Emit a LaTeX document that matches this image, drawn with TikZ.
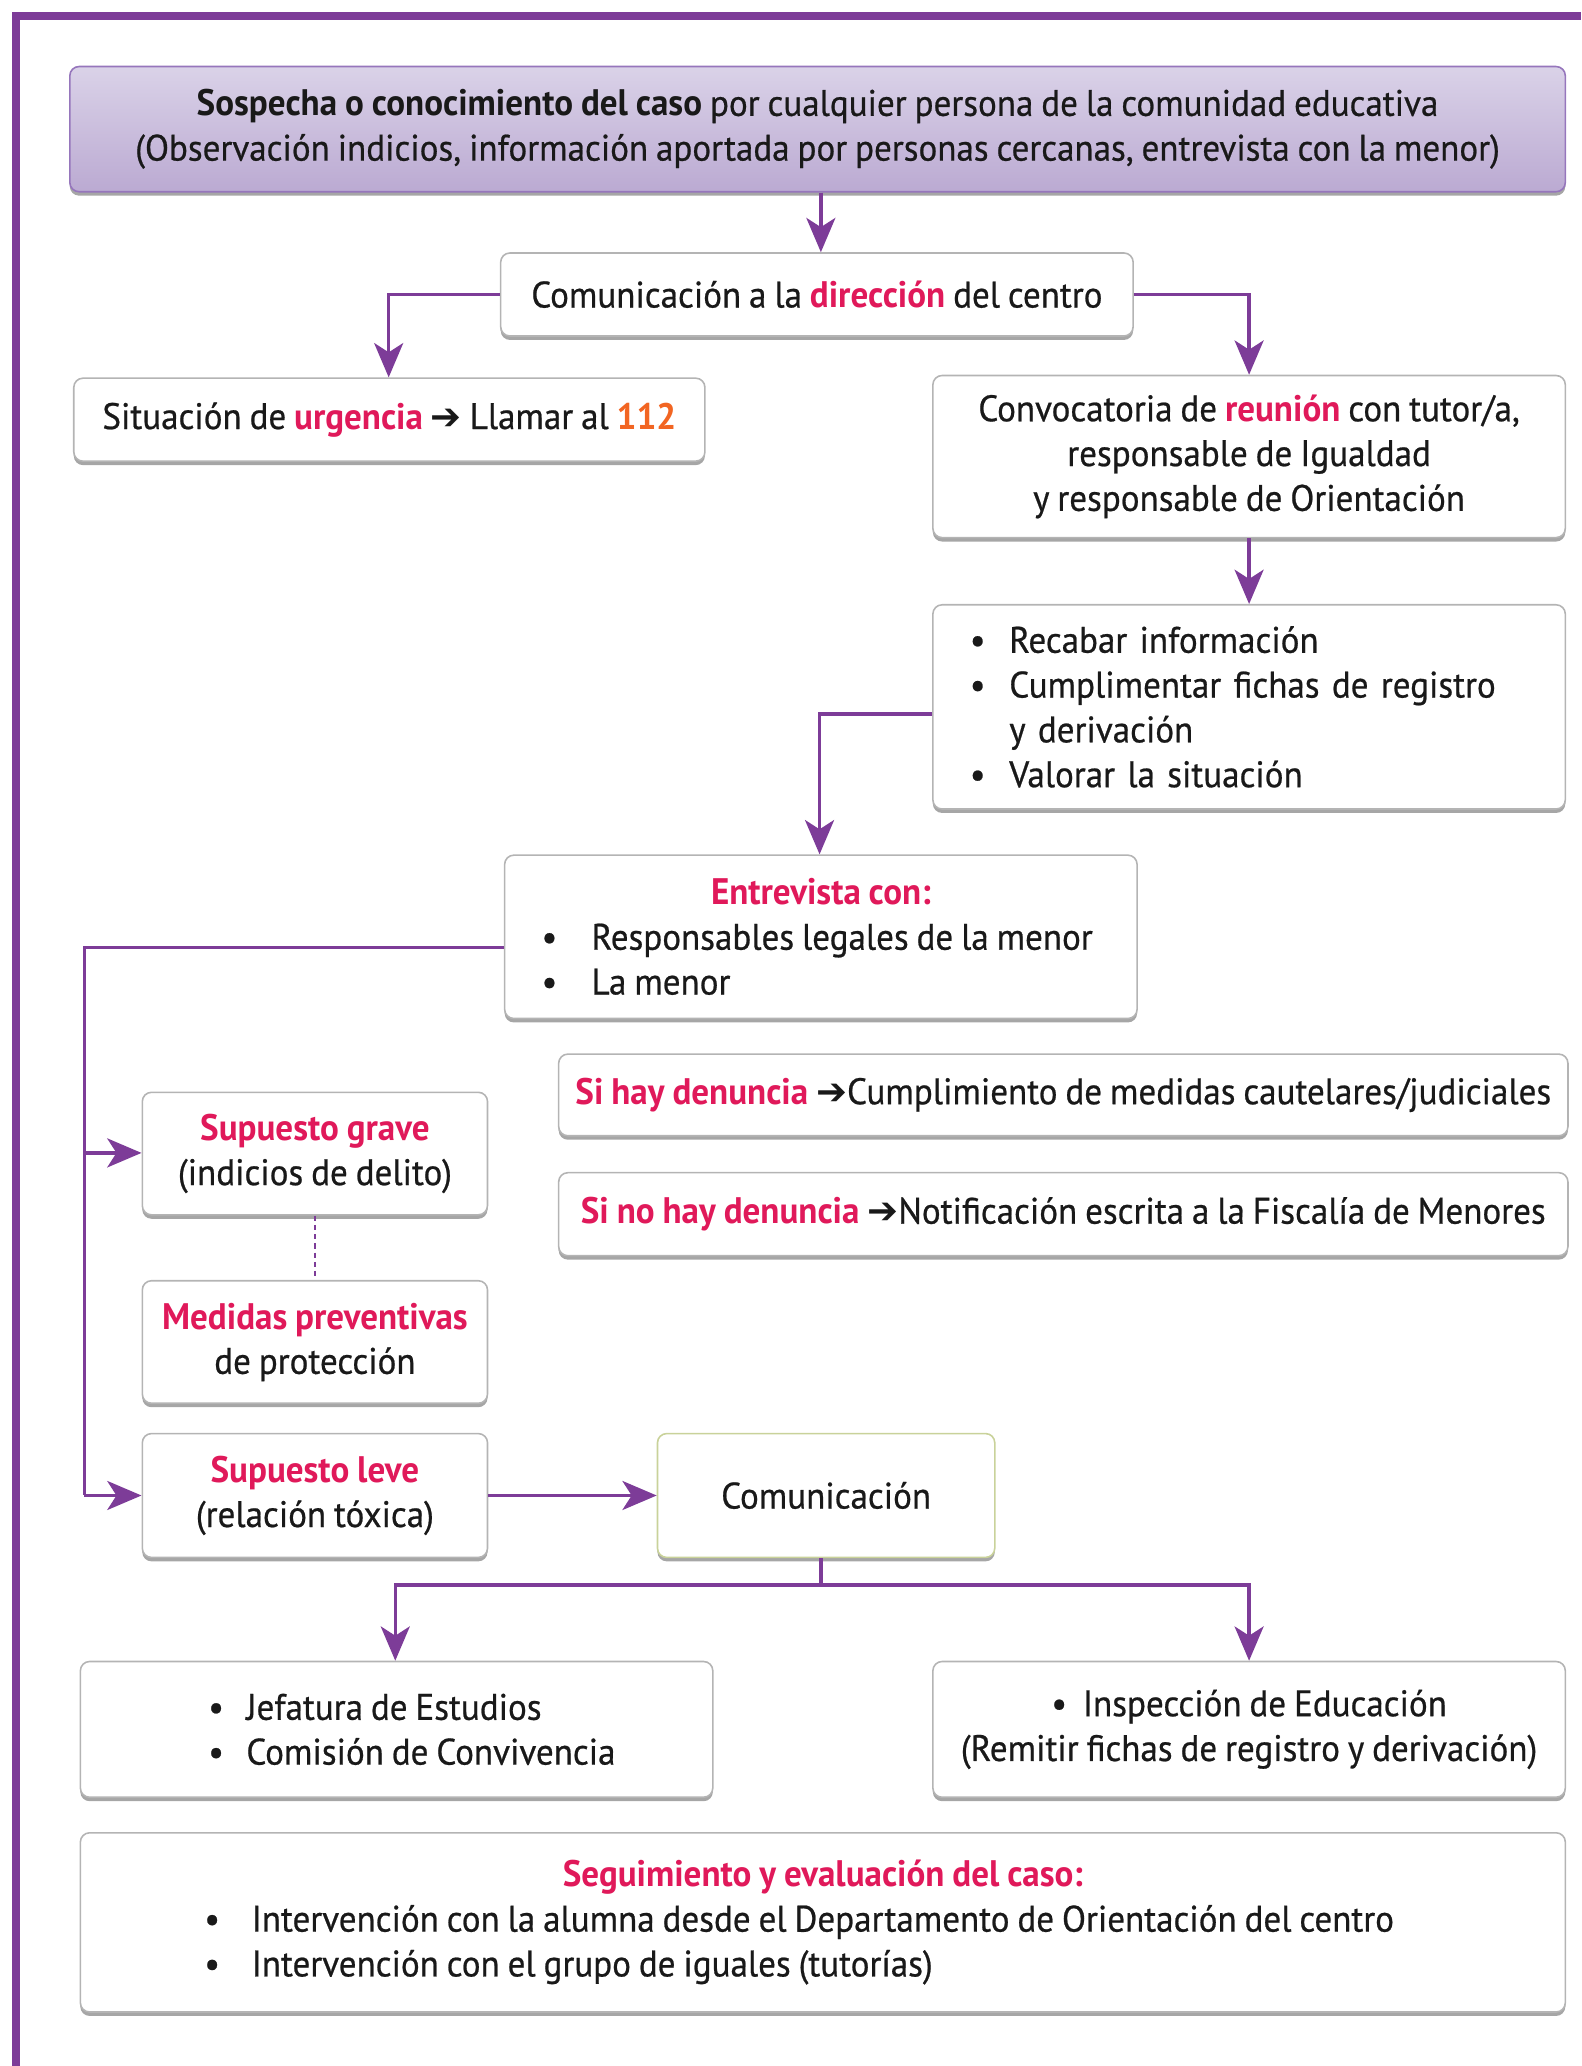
\documentclass[tikz,border=0pt]{standalone}
\usepackage{fontspec}
\setmainfont{PT Sans}[FakeStretch=0.95, UprightFeatures={FakeBold=0.6}]
\newfontfamily\symfont{DejaVu Sans}
\usetikzlibrary{arrows.meta,shadows}
\definecolor{purp}{HTML}{7D3C98}
\definecolor{redt}{HTML}{E0195A}
\definecolor{orgt}{HTML}{F26522}
\definecolor{topA}{HTML}{DAD2E8}
\definecolor{topB}{HTML}{BBAAD2}
\definecolor{topE}{HTML}{9676BC}
\definecolor{grayE}{HTML}{B4B4B4}
\definecolor{greenE}{HTML}{C9D29A}
\newcommand{\rt}[1]{\textcolor{redt}{\textbf{#1}}}
\newcommand{\harrow}{{\symfont\bfseries ➔}}
\newcommand{\bul}[1]{\makebox[#1][l]{\textbullet}}
\DeclareRobustCommand{\nodefont}{\fontsize{28}{34}\selectfont\spaceskip=6pt plus 1pt minus 1pt\relax}
\tikzset{
  every node/.style={font=\nodefont, text=black!90},
  box/.style={draw=grayE, line width=1.2pt, rounded corners=7pt, fill=white,
    drop shadow={shadow xshift=0pt, shadow yshift=-3pt, fill=black!35, opacity=1},
    inner sep=0pt, align=center},
  conn/.style={draw=purp, line width=2.6pt, -{Stealth[length=26pt, width=22pt, inset=7pt]}},
  plain/.style={draw=purp, line width=2.6pt}
}
\begin{document}
\begin{tikzpicture}[x=1pt,y=-1pt]
\useasboundingbox (0,0) rectangle (1200,1568);
% frame
\draw[purp, line width=6pt] (12,1568) -- (12,12) -- (1200,12);
% nodes
\node[box, draw=topE, top color=topA, bottom color=topB, minimum width=1135pt, minimum height=95pt] (top) at (620.5,98)
  {\textbf{Sospecha o conocimiento del caso} por cualquier persona de la comunidad educativa\\(Observación indicios, información aportada por personas cercanas, entrevista con la menor)};
\node[box, minimum width=480pt, minimum height=63pt] (dir) at (620,223.5) {Comunicación a la \rt{dirección} del centro};
\node[box, minimum width=479pt, minimum height=63pt] (urg) at (295.5,318.5) {Situación de \rt{urgencia} \harrow{} Llamar al \textcolor{orgt}{\textbf{112}}};
\node[box, minimum width=480pt, minimum height=123pt] (reu) at (948,346.5) {Convocatoria de \rt{reunión} con tutor/a,\\responsable de Igualdad\\y responsable de Orientación};
\node[box, minimum width=480pt, minimum height=155pt, text width=424pt, align=left] (rec) at (948,536.5)
  {\bul{30pt}Recabar información\\\bul{30pt}Cumplimentar fichas de registro\\\hspace*{30pt}y derivación\\\bul{30pt}Valorar la situación};
\node[box, minimum width=480pt, minimum height=124pt] (ent) at (623,711)
  {\rt{Entrevista con:}\\\makebox[424pt][l]{\bul{38pt}Responsables legales de la menor}\\\makebox[424pt][l]{\bul{38pt}La menor}};
\node[box, minimum width=766pt, minimum height=62pt] (si) at (807,831) {\rt{Si hay denuncia} \harrow{}Cumplimiento de medidas cautelares/judiciales};
\node[box, minimum width=766pt, minimum height=63pt] (sino) at (807,921.5) {\rt{Si no hay denuncia} \harrow{}Notificación escrita a la Fiscalía de Menores};
\node[box, minimum width=262pt, minimum height=93pt] (grave) at (239,875.5) {\rt{Supuesto grave}\\(indicios de delito)};
\node[box, minimum width=262pt, minimum height=93pt] (med) at (239,1018.5) {\rt{Medidas preventivas}\\de protección};
\node[box, minimum width=262pt, minimum height=94pt] (leve) at (239,1135) {\rt{Supuesto leve}\\(relación tóxica)};
\node[box, draw=greenE, minimum width=256pt, minimum height=94pt] (com) at (627,1135) {Comunicación};
\node[box, minimum width=480pt, minimum height=103pt] (jef) at (301,1312.5)
  {\makebox[286pt][l]{\bul{29pt}Jefatura de Estudios}\\\makebox[286pt][l]{\bul{29pt}Comisión de Convivencia}};
\node[box, minimum width=480pt, minimum height=103pt] (ins) at (948,1312.5)
  {\textbullet\hspace{12pt}Inspección de Educación\\(Remitir fichas de registro y derivación)};
\node[box, minimum width=1127pt, minimum height=136pt] (seg) at (624.5,1459)
  {\rt{Seguimiento y evaluación del caso:}\\\makebox[939pt][l]{\bul{36pt}Intervención con la alumna desde el Departamento de Orientación del centro}\\\makebox[939pt][l]{\bul{36pt}Intervención con el grupo de iguales (tutorías)}};
% connectors
\draw[conn] (top.south -| 623,0) -- (dir.north -| 623,0);
\draw[conn] (dir.west) -| (urg.north -| 295,0);
\draw[conn] (dir.east) -| (reu.north);
\draw[conn] (reu.south) -- (rec.north);
\draw[conn] (rec.west |- 0,542) -| (ent.north -| 622,0);
\coordinate (lx) at (64,719);
\draw[plain] (ent.west |- lx) -- (lx) -- (64,1135);
\draw[conn] (64,875) -- (grave.west |- 0,875);
\draw[conn] (64,1135) -- (leve.west);
\draw[purp, line width=2pt, dash pattern=on 4pt off 3pt] (grave.south) -- (med.north);
\draw[conn] (leve.east) -- (com.west);
\coordinate (cj) at (623,1203);
\draw[plain] (com.south -| cj) -- (cj);
\draw[conn] (cj) -| (jef.north -| 300,0);
\draw[conn] (cj) -| (ins.north);
\end{tikzpicture}
\end{document}
